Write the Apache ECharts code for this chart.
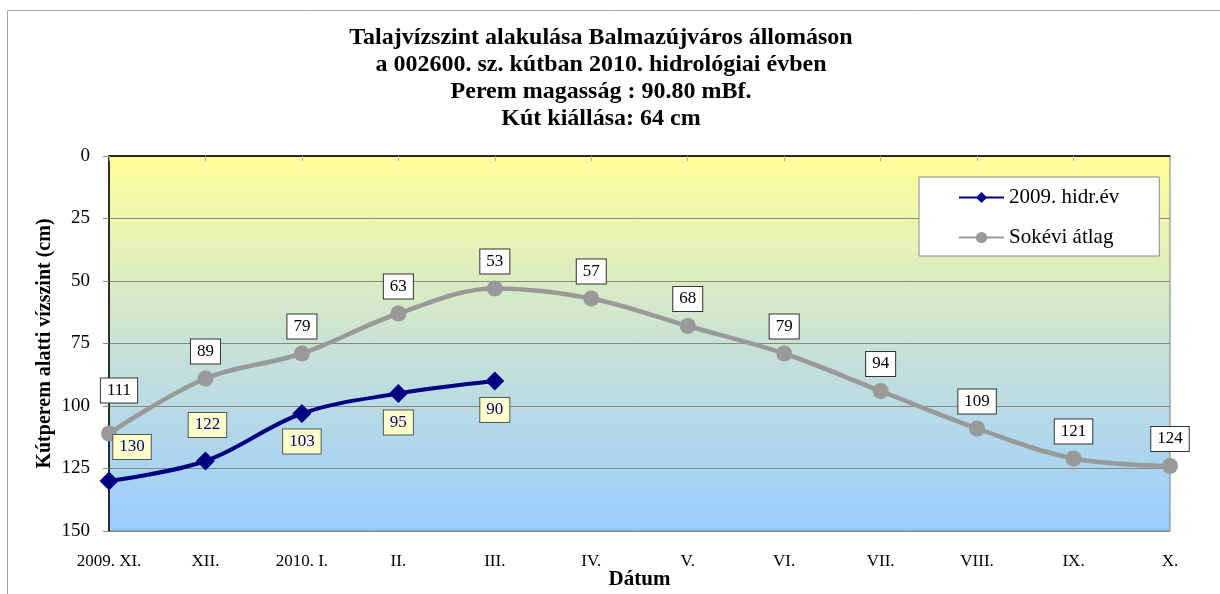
<!DOCTYPE html>
<html><head><meta charset="utf-8">
<script src="https://cdn.jsdelivr.net/npm/echarts@6/dist/echarts.min.js"></script>
<style>html,body{margin:0;padding:0;background:#fff}#c{width:1220px;height:594px}</style>
</head><body><div id="c"></div>
<script>
var categories = ['2009. XI.', 'XII.', '2010. I.', 'II.', 'III.', 'IV.', 'V.', 'VI.', 'VII.', 'VIII.', 'IX.', 'X.'];
var hidrEv2009 = [130, 122, 103, 95, 90, null, null, null, null, null, null, null];
var sokeviAtlag = [111, 89, 79, 63, 53, 57, 68, 79, 94, 109, 121, 124];
var yTicks = [0, 25, 50, 75, 100, 125, 150];
var titleLines = ['Talajvízszint alakulása Balmazújváros állomáson', 'a 002600. sz. kútban 2010. hidrológiai évben', 'Perem magasság : 90.80 mBf.', 'Kút kiállása: 64 cm'];

// label placement (presentation only)
var navyLabelOffsets = [[23, -34], [2, -36], [0, 28], [0, 29], [0, 29]];
var grayLabelOffsets = [[10, -43]];

var FONT = '"Liberation Serif", "Times New Roman", serif';

function navyData() {
  return hidrEv2009.map(function (v, i) {
    if (v == null) return v;
    var off = navyLabelOffsets[i] || [0, 28];
    return { value: v, label: { position: 'inside', offset: off } };
  });
}
function grayData() {
  return sokeviAtlag.map(function (v, i) {
    var off = grayLabelOffsets[i] || [0, -27];
    return { value: v, label: { position: 'inside', offset: off } };
  });
}

var chart = echarts.init(document.getElementById('c'), null, { renderer: 'canvas' });
chart.setOption({
  animation: false,
  backgroundColor: '#ffffff',
  graphic: [{
    type: 'rect', shape: { x: 7.5, y: 10.5, width: 1230, height: 600 },
    style: { fill: 'none', stroke: '#a0a0a0', lineWidth: 1 }, z: -1
  }, {
    type: 'text', x: 601, y: 24, z: 10,
    style: {
      text: titleLines.join('\n'),
      fontFamily: FONT, fontSize: 24, fontWeight: 'bold', fill: '#000',
      lineHeight: 27, align: 'center', verticalAlign: 'top'
    }
  }],
  legend: {
    orient: 'vertical',
    left: 919, top: 177,
    backgroundColor: '#ffffff',
    borderColor: '#8a8a8a', borderWidth: 1,
    padding: [10, 40, 8, 39],
    itemGap: 19,
    itemWidth: 45, itemHeight: 14,
    textStyle: { fontFamily: FONT, fontSize: 21, color: '#000', lineHeight: 20 },
    data: ['2009. hidr.év', 'Sokévi átlag']
  },
  grid: {
    left: 109, right: 50, top: 156, bottom: 63,
    containLabel: false,
    outerBoundsMode: 'none',
    show: true,
    borderColor: '#808080', borderWidth: 1,
    backgroundColor: new echarts.graphic.LinearGradient(0, 0, 0, 1, [
      { offset: 0, color: '#FFFF99' },
      { offset: 0.5, color: '#C9E2D6' },
      { offset: 1, color: '#99CCFF' }
    ])
  },
  xAxis: {
    type: 'category',
    data: categories,
    boundaryGap: false,
    name: 'Dátum',
    nameLocation: 'middle',
    nameGap: 38,
    nameMoveOverlap: false,
    nameTextStyle: { fontFamily: FONT, fontSize: 21, fontWeight: 'bold', color: '#000' },
    axisLine: { lineStyle: { color: '#000', width: 1.5 } },
    axisTick: { show: true, length: 5, lineStyle: { color: '#aaa' } },
    axisLabel: { fontFamily: FONT, fontSize: 17, color: '#000', margin: 22 },
    splitLine: { show: false }
  },
  yAxis: {
    type: 'value',
    inverse: true,
    min: 0, max: 150, interval: 25,
    name: 'Kútperem alatti vízszint (cm)',
    nameLocation: 'middle',
    nameGap: 54,
    nameMoveOverlap: false,
    nameTextStyle: { fontFamily: FONT, fontSize: 20, fontWeight: 'bold', color: '#000' },
    axisLine: { show: true, lineStyle: { color: '#000', width: 1.5 } },
    axisTick: { show: true, length: 6, lineStyle: { color: '#888' } },
    axisLabel: {
      fontFamily: FONT, fontSize: 19, color: '#000', margin: 19,
      formatter: function (v) { return yTicks.indexOf(v) >= 0 ? String(v) : ''; }
    },
    splitLine: { show: true, lineStyle: { color: '#8a8a7a', width: 1 } }
  },
  series: [
    {
      name: 'Sokévi átlag',
      type: 'line',
      smooth: 0.35,
      data: grayData(),
      symbol: 'circle', symbolSize: 16,
      lineStyle: { color: '#999999', width: 4.5 },
      itemStyle: { color: '#999999' },
      label: {
        show: true,
        fontFamily: FONT, fontSize: 17, color: '#000',
        backgroundColor: '#ffffff', borderColor: '#333', borderWidth: 1,
        padding: [4, 6, 3, 6]
      },
      z: 2
    },
    {
      name: '2009. hidr.év',
      type: 'line',
      smooth: 0.35,
      data: navyData(),
      symbol: 'diamond', symbolSize: 19,
      lineStyle: { color: '#000080', width: 4 },
      itemStyle: { color: '#000080' },
      label: {
        show: true,
        fontFamily: FONT, fontSize: 17, color: '#000080',
        backgroundColor: '#FFFFCC', borderColor: '#555', borderWidth: 1,
        padding: [4, 6, 3, 6]
      },
      z: 3
    }
  ]
});
</script>
</body></html>
